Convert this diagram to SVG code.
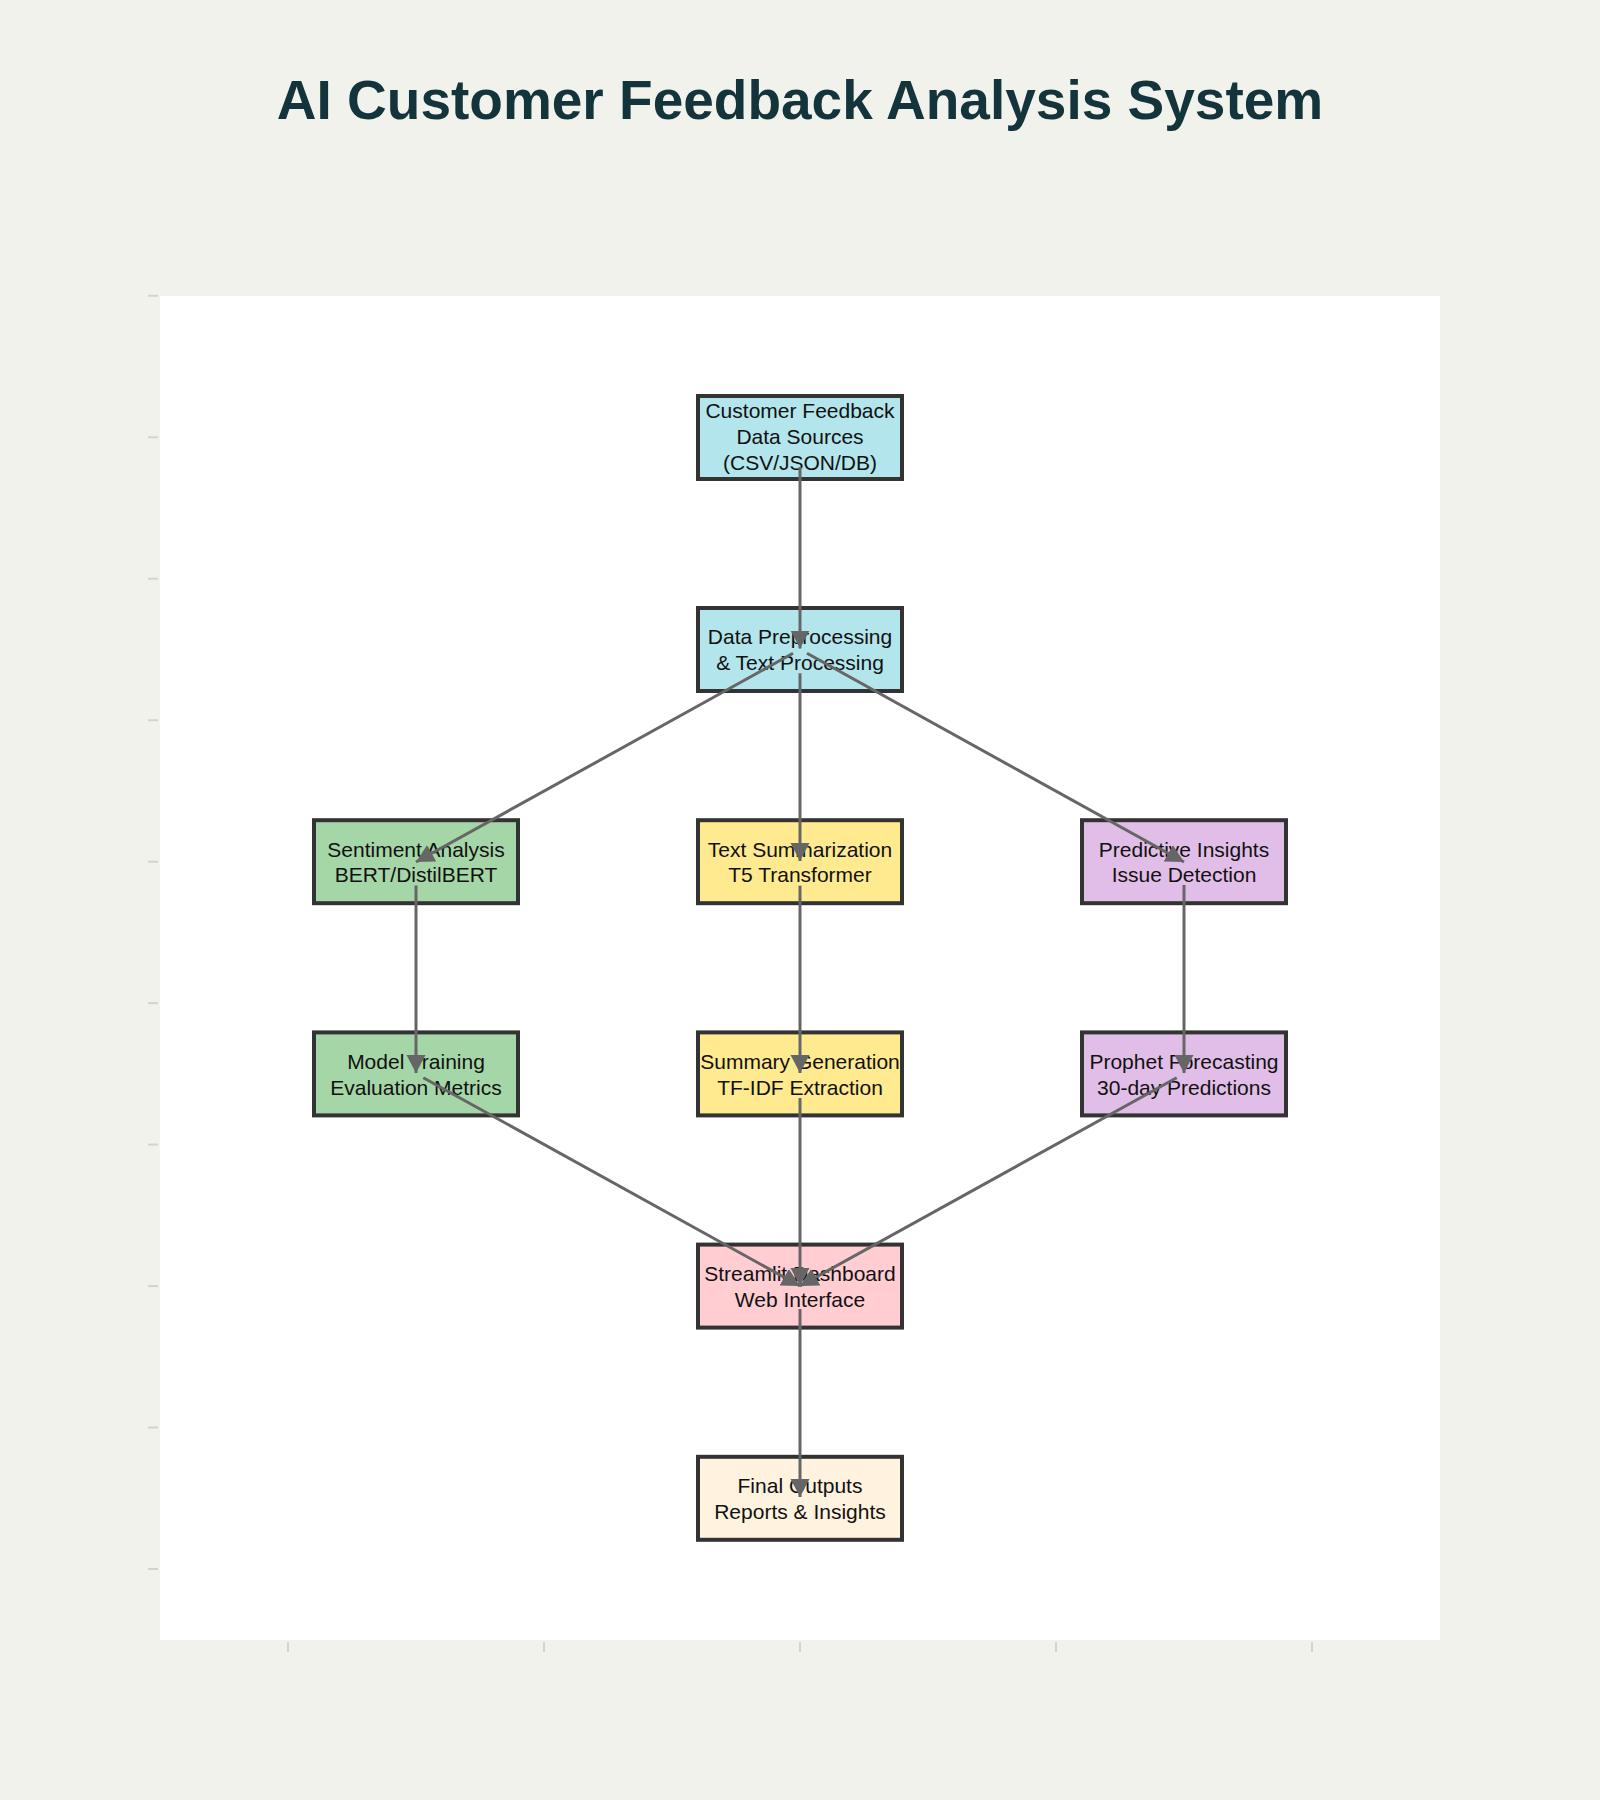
<svg xmlns="http://www.w3.org/2000/svg" width="1600" height="1800" viewBox="0 0 1600 1800">
  <style>
    .box { stroke: #333333; stroke-width: 4; }
    .lbl { font-family: "Liberation Sans", Arial, sans-serif; font-size: 21px; fill: #111111; text-anchor: middle; }
    .title { font-family: "Liberation Sans", Arial, sans-serif; font-size: 55px; font-weight: bold; fill: #13343B; text-anchor: middle; }
    .tick { stroke: #D6D3CD; stroke-width: 2; }
    .conn { stroke: #666666; stroke-width: 3; fill: none; marker-end: url(#arr); }
    .c-blue { fill: #B3E5EC; }
    .c-green { fill: #A5D6A7; }
    .c-yellow { fill: #FFEA8F; }
    .c-purple { fill: #E1BEE7; }
    .c-pink { fill: #FFCDD2; }
    .c-cream { fill: #FFF2DF; }
  </style>
  <defs>
    <marker id="arr" markerUnits="userSpaceOnUse" markerWidth="20" markerHeight="20" refX="18" refY="9.5" orient="auto">
      <path d="M0,0 L18,9.5 L0,19 Z" fill="#666666"/>
    </marker>
  </defs>

  <rect x="0" y="0" width="1600" height="1800" fill="#F2F2EC"/>
  <text class="title" x="800" y="119">AI Customer Feedback Analysis System</text>

  <g id="plot-area">
    <rect x="160" y="296" width="1280" height="1344" fill="#FFFFFF"/>
    <g id="y-ticks">
      <line class="tick" x1="148" y1="295.8" x2="158" y2="295.8"/>
      <line class="tick" x1="148" y1="437.3" x2="158" y2="437.3"/>
      <line class="tick" x1="148" y1="578.7" x2="158" y2="578.7"/>
      <line class="tick" x1="148" y1="720.2" x2="158" y2="720.2"/>
      <line class="tick" x1="148" y1="861.7" x2="158" y2="861.7"/>
      <line class="tick" x1="148" y1="1003.1" x2="158" y2="1003.1"/>
      <line class="tick" x1="148" y1="1144.6" x2="158" y2="1144.6"/>
      <line class="tick" x1="148" y1="1286.1" x2="158" y2="1286.1"/>
      <line class="tick" x1="148" y1="1427.5" x2="158" y2="1427.5"/>
      <line class="tick" x1="148" y1="1569" x2="158" y2="1569"/>
    </g>
    <g id="x-ticks">
      <line class="tick" x1="288" y1="1642" x2="288" y2="1652"/>
      <line class="tick" x1="544" y1="1642" x2="544" y2="1652"/>
      <line class="tick" x1="800" y1="1642" x2="800" y2="1652"/>
      <line class="tick" x1="1056" y1="1642" x2="1056" y2="1652"/>
      <line class="tick" x1="1312" y1="1642" x2="1312" y2="1652"/>
    </g>
  </g>

  <g id="node-customer-feedback">
    <rect class="box c-blue" x="698" y="396" width="204" height="83"/>
    <text class="lbl" x="800" y="417.5">Customer Feedback</text>
    <text class="lbl" x="800" y="443.5">Data Sources</text>
    <text class="lbl" x="800" y="469.5">(CSV/JSON/DB)</text>
  </g>
  <g id="node-data-preprocessing">
    <rect class="box c-blue" x="698" y="608" width="204" height="83"/>
    <text class="lbl" x="800" y="644.3">Data Preprocessing</text>
    <text class="lbl" x="800" y="670.2">&amp; Text Processing</text>
  </g>
  <g id="node-sentiment-analysis">
    <rect class="box c-green" x="314" y="820.2" width="204" height="83"/>
    <text class="lbl" x="416" y="856.5">Sentiment Analysis</text>
    <text class="lbl" x="416" y="882.4">BERT/DistilBERT</text>
  </g>
  <g id="node-text-summarization">
    <rect class="box c-yellow" x="698" y="820.2" width="204" height="83"/>
    <text class="lbl" x="800" y="856.5">Text Summarization</text>
    <text class="lbl" x="800" y="882.4">T5 Transformer</text>
  </g>
  <g id="node-predictive-insights">
    <rect class="box c-purple" x="1082" y="820.2" width="204" height="83"/>
    <text class="lbl" x="1184" y="856.5">Predictive Insights</text>
    <text class="lbl" x="1184" y="882.4">Issue Detection</text>
  </g>
  <g id="node-model-training">
    <rect class="box c-green" x="314" y="1032.4" width="204" height="83"/>
    <text class="lbl" x="416" y="1068.7">Model Training</text>
    <text class="lbl" x="416" y="1094.6">Evaluation Metrics</text>
  </g>
  <g id="node-summary-generation">
    <rect class="box c-yellow" x="698" y="1032.4" width="204" height="83"/>
    <text class="lbl" x="800" y="1068.7">Summary Generation</text>
    <text class="lbl" x="800" y="1094.6">TF-IDF Extraction</text>
  </g>
  <g id="node-prophet-forecasting">
    <rect class="box c-purple" x="1082" y="1032.4" width="204" height="83"/>
    <text class="lbl" x="1184" y="1068.7">Prophet Forecasting</text>
    <text class="lbl" x="1184" y="1094.6">30-day Predictions</text>
  </g>
  <g id="node-streamlit-dashboard">
    <rect class="box c-pink" x="698" y="1244.6" width="204" height="83"/>
    <text class="lbl" x="800" y="1280.9">Streamlit Dashboard</text>
    <text class="lbl" x="800" y="1306.8">Web Interface</text>
  </g>
  <g id="node-final-outputs">
    <rect class="box c-cream" x="698" y="1456.8" width="204" height="83"/>
    <text class="lbl" x="800" y="1493.1">Final Outputs</text>
    <text class="lbl" x="800" y="1519">Reports &amp; Insights</text>
  </g>

  <g id="connectors">
    <line class="conn" x1="800" y1="467" x2="800" y2="648.5"/>
    <line class="conn" x1="793" y1="653.3" x2="416" y2="862"/>
    <line class="conn" x1="800" y1="673.3" x2="800" y2="861"/>
    <line class="conn" x1="807" y1="653.3" x2="1184" y2="862"/>
    <line class="conn" x1="416" y1="885.5" x2="416" y2="1073"/>
    <line class="conn" x1="800" y1="885.7" x2="800" y2="1073"/>
    <line class="conn" x1="1184" y1="885" x2="1184" y2="1073"/>
    <line class="conn" x1="423.3" y1="1077.7" x2="800" y2="1286"/>
    <line class="conn" x1="800" y1="1098" x2="800" y2="1286"/>
    <line class="conn" x1="1176.7" y1="1077.7" x2="800" y2="1286"/>
    <line class="conn" x1="800" y1="1309" x2="800" y2="1497"/>
  </g>
</svg>
